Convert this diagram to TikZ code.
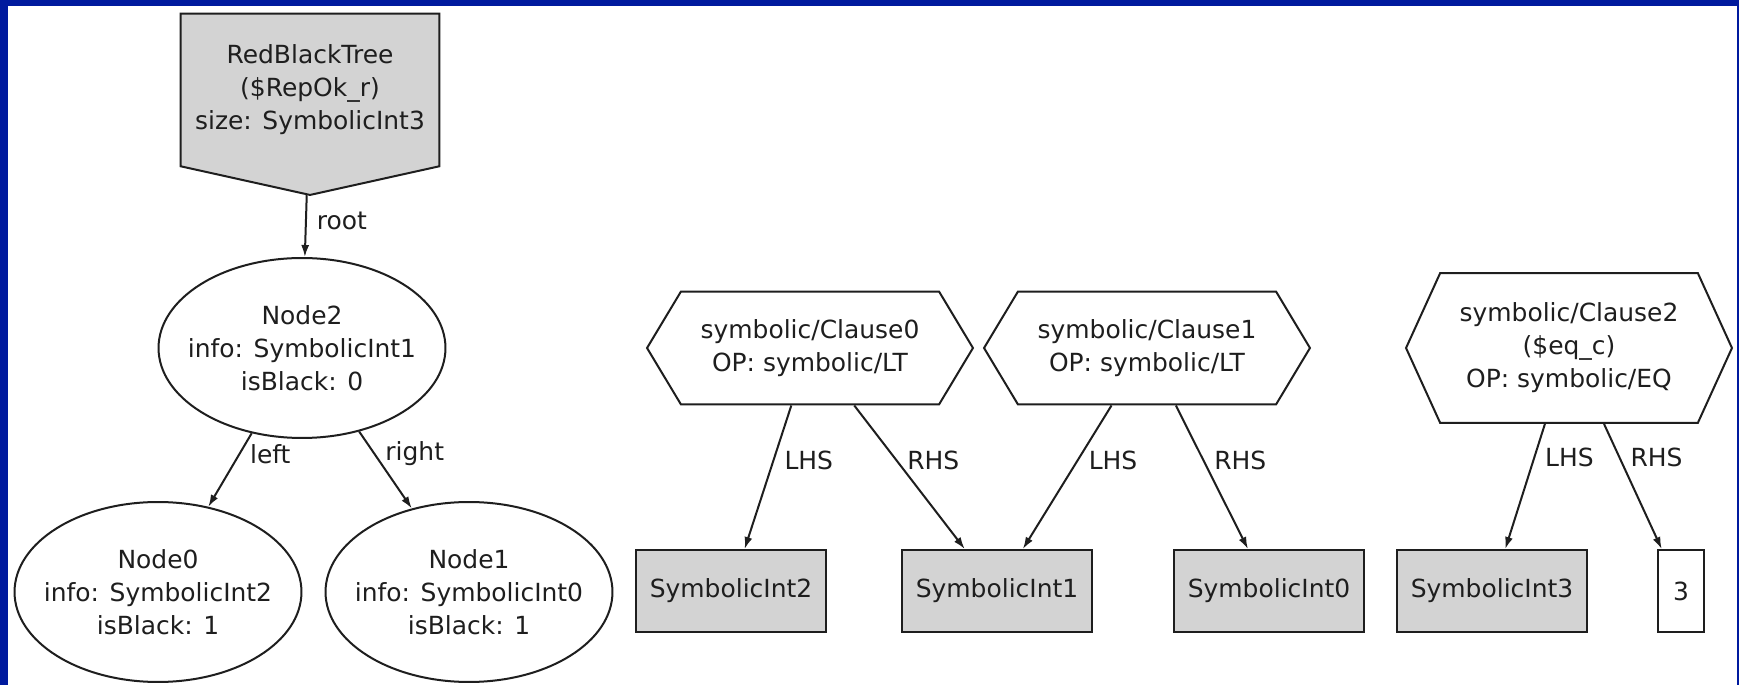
\documentclass[tikz,border=0pt]{standalone}
\usepackage{fontspec}
\setmainfont{DejaVu Sans}
\usetikzlibrary{arrows.meta,shapes.geometric,shapes.symbols}
\definecolor{slideblue}{RGB}{0,26,158}
\definecolor{boxgray}{RGB}{211,211,211}
\definecolor{ink}{RGB}{30,30,30}

\begin{document}
\begin{tikzpicture}[x=0.02cm,y=-0.02cm]
\tikzstyle{every node}=[font=\fontsize{14.2}{18.8}\selectfont, text=ink, align=center, inner sep=0pt]
\tikzstyle{obj}=[ellipse, draw=ink, line width=0.04cm, minimum width=5.74cm, minimum height=3.6cm, inner xsep=-0.3cm]
\tikzstyle{clause}=[signal, signal to=east and west, signal pointer angle=118, draw=ink, line width=0.04cm, minimum width=6.52cm, minimum height=2.26cm]
\tikzstyle{sym}=[draw=ink, line width=0.04cm, fill=boxgray, minimum width=3.82cm, minimum height=1.64cm]
\tikzstyle{edge}=[draw=ink, line width=0.04cm, -{Latex[length=0.24cm,width=0.16cm]}]
\tikzstyle{lbl}=[anchor=west, inner xsep=0.2cm]
% slide frame
\fill[slideblue] (0,0) rectangle (1739,685);
\fill[white] (8,6) rectangle (1737,685);
% the tree
\node (rbt) at (310,90) [signal, signal to=south, signal pointer angle=155, draw=ink, line width=0.04cm, fill=boxgray, minimum width=5.18cm, minimum height=3.56cm] {RedBlackTree\\(\$RepOk\_r)\\size: SymbolicInt3};
\node[obj] (n2) at (302,348) {Node2\\info: SymbolicInt1\\isBlack: 0};
\node[obj] (n0) at (158,592) {Node0\\info: SymbolicInt2\\isBlack: 1};
\node[obj] (n1) at (469,592) {Node1\\info: SymbolicInt0\\isBlack: 1};
\draw[edge] (rbt) -- node[lbl, pos=0.42] {root} (n2);
\draw[edge] (n2) -- node[lbl, pos=0.29] {left} (n0);
\draw[edge] (n2) -- node[lbl, pos=0.29] {right} (n1);
% the clauses
\node[clause] (c0) at (810,348) {symbolic/Clause0\\OP: symbolic/LT};
\node[clause] (c1) at (1147,348) {symbolic/Clause1\\OP: symbolic/LT};
\node[clause, signal pointer angle=131, minimum height=3cm] (c2) at (1569,348) {symbolic/Clause2\\(\$eq\_c)\\OP: symbolic/EQ};
\node[sym] (s2) at (731,591) {SymbolicInt2};
\node[sym] (s1) at (997,591) {SymbolicInt1};
\node[sym] (s0) at (1269,591) {SymbolicInt0};
\node[sym] (s3) at (1492,591) {SymbolicInt3};
\node[sym, fill=white, minimum width=0.92cm] (k3) at (1681,591) {3};
\draw[edge] (c0) -- node[lbl, pos=0.38] {LHS} (s2);
\draw[edge] (c0) -- node[lbl, pos=0.38] {RHS} (s1);
\draw[edge] (c1) -- node[lbl, pos=0.38] {LHS} (s1);
\draw[edge] (c1) -- node[lbl, pos=0.38] {RHS} (s0);
\draw[edge] (c2) -- node[lbl, pos=0.27] {LHS} (s3);
\draw[edge] (c2) -- node[lbl, pos=0.27] {RHS} (k3);
\end{tikzpicture}
\end{document}
